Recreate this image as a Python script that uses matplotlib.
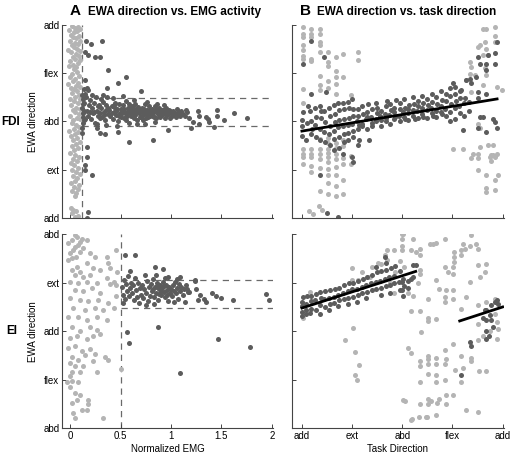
import numpy as np
import matplotlib.pyplot as plt

plt.rcParams['font.family'] = ['Liberation Sans', 'DejaVu Sans']

LIGHT = '#b4b4b4'
DARK = '#5c5c5c'

# y axis is EWA direction in degrees (0..360)
fdi_ticks = ['add', 'ext', 'abd', 'flex', 'add']
ei_ticks = ['abd', 'flex', 'add', 'ext', 'abd']
task_ticks = ['add', 'ext', 'abd', 'flex', 'add']
emg_ticks = [0, 0.5, 1, 1.5, 2]

# ---------- panel A, FDI ----------
fdi_emg_light = [
    (0.02, 358), (0.05, 355), (0.08, 357), (-0.01, 350), (0.04, 346), (0.07, 349), (0.1, 352), (0.01, 342),
    (0.03, 338), (0.06, 335), (0.09, 339), (0.0, 331), (0.05, 327), (0.08, 324), (0.02, 322), (0.1, 330),
    (0.04, 318), (0.07, 315), (-0.02, 313), (0.01, 309), (0.06, 306), (0.09, 303), (0.03, 300), (0.1, 311),
    (0.05, 296), (0.0, 292), (0.08, 289), (0.03, 285), (0.06, 281), (-0.01, 283), (0.1, 294),
    (0.04, 277), (0.07, 272), (0.02, 268), (0.09, 265), (0.0, 262), (0.05, 260),
    (0.03, 256), (0.08, 252), (0.06, 247), (-0.02, 250), (0.01, 243), (0.1, 245), (0.04, 240),
    (0.07, 237), (0.02, 233), (0.09, 230), (0.05, 226), (0.0, 222), (0.1, 221),
    (0.04, 218), (0.08, 214), (0.01, 210), (0.06, 206), (0.1, 203), (0.03, 201),
    (0.05, 197), (0.09, 193), (0.0, 190), (0.07, 186), (0.03, 182), (0.1, 184),
    (0.02, 178), (0.06, 174), (0.09, 170), (0.04, 166), (-0.01, 163), (0.08, 161),
    (0.05, 157), (0.01, 153), (0.07, 149), (0.03, 145), (0.1, 142),
    (0.06, 138), (0.02, 134), (0.08, 130), (0.04, 126), (0.0, 122),
    (0.05, 118), (0.09, 114), (0.03, 110), (0.07, 106), (0.01, 102),
    (0.04, 98), (0.08, 94), (0.02, 90), (0.06, 86), (0.1, 82),
    (0.03, 78), (0.07, 74), (0.05, 69), (0.01, 65), (0.09, 62),
    (0.04, 58), (0.08, 54), (0.02, 50), (0.06, 46), (0.05, 41),
    (0.01, 18), (0.03, 14), (0.02, 9), (0.06, 12), (0.08, 3), (0.05, 1),
]
fdi_emg_dark = [
    (0.16, 330), (0.21, 325), (0.32, 330), (0.15, 310), (0.18, 304), (0.25, 301), (0.3, 301),
    (0.38, 276), (0.55, 263), (0.47, 252), (0.37, 242), (0.15, 257), (0.17, 242), (0.7, 237),
    (1.03, 196), (1.15, 201), (1.27, 200), (1.28, 190), (1.28, 175), (1.35, 189), (1.37, 185),
    (1.38, 179), (1.46, 201), (1.46, 190), (1.43, 170), (1.53, 183), (1.62, 196), (1.75, 187),
    (1.2, 168), (0.97, 164), (1.22, 179),
    (0.27, 168), (0.3, 159), (0.35, 157), (0.58, 142), (0.82, 146), (0.47, 160), (0.17, 114),
    (0.15, 99), (0.17, 132), (0.12, 168), (0.22, 80), (0.18, 11), (0.17, 0), (0.15, 90), (0.12, 158),
    (0.12, 205), (0.13, 195), (0.14, 215), (0.15, 185), (0.16, 226), (0.17, 200), (0.18, 190),
    (0.19, 210), (0.13, 178), (0.2, 220), (0.15, 232), (0.18, 238), (0.2, 198),
    (0.21, 185), (0.22, 205), (0.23, 195), (0.24, 215), (0.25, 178), (0.26, 225), (0.27, 200),
    (0.28, 190), (0.29, 210), (0.22, 230), (0.3, 196), (0.27, 175),
    (0.31, 205), (0.32, 188), (0.33, 217), (0.34, 198), (0.35, 182), (0.36, 210), (0.37, 225),
    (0.38, 194), (0.39, 201), (0.33, 230), (0.4, 190), (0.36, 173), (0.31, 222),
    (0.41, 208), (0.42, 185), (0.43, 198), (0.44, 215), (0.45, 192), (0.46, 203), (0.47, 180),
    (0.48, 212), (0.49, 196), (0.42, 224), (0.5, 188), (0.46, 172), (0.44, 205),
    (0.51, 200), (0.52, 210), (0.53, 186), (0.54, 195), (0.55, 218), (0.56, 190), (0.57, 205),
    (0.58, 178), (0.59, 199), (0.52, 227), (0.6, 208), (0.55, 183), (0.57, 195),
    (0.61, 193), (0.62, 203), (0.63, 186), (0.64, 212), (0.65, 197), (0.66, 182), (0.67, 207),
    (0.68, 195), (0.69, 201), (0.63, 220), (0.7, 188), (0.66, 175), (0.62, 197),
    (0.71, 205), (0.72, 192), (0.73, 199), (0.74, 213), (0.75, 186), (0.76, 201), (0.77, 194),
    (0.78, 208), (0.79, 190), (0.74, 176), (0.8, 198), (0.72, 182), (0.76, 216),
    (0.81, 203), (0.82, 191), (0.83, 197), (0.84, 209), (0.85, 186), (0.86, 200), (0.87, 194),
    (0.88, 205), (0.89, 189), (0.84, 179), (0.9, 198), (0.86, 212),
    (0.91, 192), (0.92, 202), (0.93, 196), (0.94, 187), (0.95, 206), (0.96, 199), (0.97, 193),
    (0.98, 201), (0.99, 186), (0.93, 210), (1.0, 196),
    (1.01, 190), (1.02, 200), (1.04, 195), (1.05, 188), (1.06, 204), (1.08, 197), (1.09, 191), (1.1, 199),
    (1.12, 194), (1.14, 190), (1.16, 198), (1.18, 186),
    (0.13, 188), (0.14, 200), (0.13, 222), (0.14, 182), (0.12, 230), (0.13, 212), (0.14, 240),
    (0.34, 192), (0.38, 205), (0.41, 196), (0.45, 200), (0.48, 190), (0.51, 195), (0.53, 204),
    (0.56, 198), (0.6, 191), (0.62, 208), (0.64, 192), (0.67, 199), (0.69, 189), (0.71, 197),
    (0.73, 204), (0.75, 194), (0.77, 189), (0.79, 201), (0.81, 196), (0.83, 188), (0.85, 203),
    (0.87, 199), (0.89, 196), (0.91, 201), (0.94, 195), (0.96, 192), (0.99, 200), (1.03, 193),
    (1.07, 192), (0.36, 202), (0.43, 210), (0.5, 203), (0.58, 213), (0.65, 204), (0.72, 198),
    (0.79, 196), (0.88, 193), (0.28, 208), (0.24, 198), (0.3, 186),
]
fdi_emg_cut = 0.12
fdi_band = (172, 224)

# ---------- panel A, EI ----------
ei_emg_light = [
    (0.05, 358), (0.02, 349), (0.07, 354), (0.1, 345), (-0.02, 343), (0.17, 349), (0.05, 336),
    (0.13, 334), (0.0, 325), (0.1, 327), (0.2, 325), (0.25, 317), (-0.02, 312), (0.02, 315),
    (0.07, 299), (0.17, 306), (0.37, 317), (0.45, 330), (0.38, 306), (0.4, 298), (0.02, 293),
    (0.1, 290), (0.23, 297), (0.3, 293), (0.46, 290), (0.05, 284), (0.13, 281), (0.2, 284),
    (0.37, 279), (0.0, 271), (0.08, 269), (0.17, 271), (0.27, 269), (0.43, 271), (0.05, 256),
    (0.13, 254), (0.22, 260), (0.3, 250), (0.4, 267), (0.45, 265), (0.0, 241), (0.1, 238),
    (0.18, 236), (0.28, 238), (0.38, 232), (0.45, 245), (0.03, 223), (0.15, 220), (0.25, 223),
    (0.33, 220), (0.43, 223), (-0.02, 206), (0.08, 206), (0.17, 200), (0.27, 206), (0.37, 200),
    (0.02, 188), (0.1, 180), (0.2, 188), (0.27, 182), (0.0, 167), (0.07, 171), (0.17, 165),
    (0.23, 171), (0.3, 174), (-0.02, 148), (0.05, 152), (0.12, 143), (0.2, 147), (0.02, 132),
    (0.08, 126), (0.15, 135), (0.25, 138), (0.35, 132), (0.38, 126), (0.0, 121), (0.05, 115),
    (0.13, 115), (0.23, 124), (0.02, 104), (0.1, 104), (0.27, 104), (0.5, 110), (-0.03, 85),
    (0.02, 88), (0.08, 85), (0.0, 97), (0.05, 65), (0.02, 46), (0.07, 52), (0.18, 52), (0.03, 28),
    (0.12, 34), (0.17, 34), (0.05, 19), (0.18, 44), (0.33, 19), (0.1, 62), (0.0, 76),
    (0.08, 340), (0.03, 330), (0.12, 352), (0.06, 318),
]
ei_emg_dark = [
    (0.54, 321), (0.64, 321), (0.84, 299), (0.59, 291), (0.92, 295), (1.09, 280), (1.24, 275),
    (0.56, 178), (0.58, 158), (0.87, 188), (1.47, 165), (1.78, 151), (1.09, 102),
    (1.24, 273), (1.25, 259), (1.29, 247), (1.27, 237), (1.33, 239), (1.35, 234), (1.41, 250),
    (1.45, 245), (1.5, 241), (1.61, 237), (1.94, 249), (1.97, 237), (0.97, 280), (1.06, 276),
    (1.16, 258), (1.18, 253), (1.14, 234), (1.03, 234),
    (0.51, 262), (0.52, 248), (0.53, 275), (0.54, 240), (0.55, 268), (0.56, 255), (0.57, 283),
    (0.58, 245), (0.59, 260), (0.52, 233), (0.6, 270),
    (0.61, 250), (0.62, 265), (0.63, 238), (0.64, 278), (0.65, 256), (0.66, 244), (0.67, 270),
    (0.68, 232), (0.69, 260), (0.7, 248),
    (0.71, 266), (0.72, 241), (0.73, 258), (0.74, 284), (0.75, 250), (0.76, 273), (0.77, 236),
    (0.78, 262), (0.79, 246), (0.8, 268), (0.75, 229),
    (0.81, 255), (0.82, 277), (0.83, 243), (0.84, 262), (0.85, 250), (0.86, 270), (0.87, 238),
    (0.88, 258), (0.89, 265), (0.9, 247), (0.85, 285), (0.83, 231),
    (0.91, 260), (0.92, 272), (0.93, 252), (0.94, 243), (0.95, 266), (0.96, 256), (0.97, 236),
    (0.98, 262), (0.99, 250), (0.94, 278), (1.0, 258),
    (1.01, 245), (1.02, 265), (1.03, 255), (1.04, 272), (1.05, 250), (1.06, 260), (1.07, 240),
    (1.08, 268), (1.09, 254), (1.1, 262), (1.12, 248), (1.13, 258), (1.15, 266), (1.17, 252),
    (0.86, 262), (0.9, 255), (0.93, 264), (0.88, 249), (0.96, 248), (0.82, 258),
]
ei_emg_cut = 0.5
ei_band = (223, 275)

# ---------- panel B, FDI ----------
fdi_task_light = [
    (2, 356), (2, 344), (2, 338), (2, 323), (2, 313), (2, 303), (2, 297), (2, 240), (2, 215),
    (2, 129), (2, 120), (2, 113), (2, 100),
    (17, 352), (17, 343), (17, 338), (17, 297), (17, 292), (17, 129), (17, 120), (17, 113),
    (17, 97), (17, 85), (12, 12), (20, 8),
    (33, 352), (33, 343), (33, 328), (33, 322), (33, 310), (33, 265), (33, 248), (33, 238),
    (33, 148), (33, 129), (33, 120), (33, 110), (33, 93), (33, 50), (30, 22), (36, 14),
    (47, 310), (47, 290), (47, 284), (47, 255), (47, 242), (47, 150), (47, 140), (47, 128),
    (47, 122), (47, 113), (47, 105), (47, 92), (47, 80), (47, 65), (47, 45),
    (61, 300), (61, 275), (61, 262), (61, 250), (61, 232), (61, 140), (61, 130), (61, 120),
    (61, 110), (61, 95), (61, 80), (61, 60), (61, 40),
    (74, 305), (74, 262), (74, 145), (74, 135), (74, 112), (74, 100), (74, 70), (74, 45),
    (88, 230), (88, 115), (88, 100), (100, 310), (100, 295),
    (271, 129), (289, 129), (304, 111), (307, 120), (316, 120), (316, 111), (316, 89), (319, 133),
    (334, 136), (340, 117), (343, 136), (346, 114), (337, 114), (340, 107), (331, 80), (346, 71),
    (352, 80), (331, 55), (331, 49), (346, 52), (301, 291), (304, 282), (301, 269), (310, 266),
    (316, 319), (319, 322), (325, 353), (331, 353), (346, 356), (328, 328), (331, 316), (325, 304),
    (334, 304), (346, 340), (346, 328), (328, 279), (331, 266), (349, 245), (359, 239), (325, 248),
    (295, 257), (304, 235), (319, 167), (316, 176), (349, 120), (343, 118),
]
fdi_task_dark = [
    (17, 330), (2, 288), (40, 300), (17, 232), (35, 199), (44, 235), (32, 80), (65, 1), (45, 9),
    (89, 114), (92, 105), (74, 120), (100, 136), (103, 145), (121, 145),
    (271, 251), (286, 238), (295, 257), (301, 260), (304, 251), (313, 263), (316, 300), (319, 288),
    (331, 288), (331, 276), (334, 304), (346, 307), (346, 288), (349, 328), (331, 232), (316, 235),
    (316, 223), (289, 164), (316, 167), (331, 161), (343, 185), (346, 179), (349, 167), (319, 188),
    (325, 188),
    (0, 152), (1, 171), (0, 183), (2, 197), (8, 146), (9, 178), (10, 209),
    (16, 156), (17, 181), (15, 199), (18, 166), (25, 151), (24, 173), (26, 189), (24, 206),
    (33, 146), (32, 166), (34, 186), (32, 209), (41, 141), (40, 161), (42, 179), (40, 199),
    (50, 136), (49, 156), (51, 171), (51, 191), (49, 206), (58, 147), (57, 162), (59, 179),
    (59, 194), (57, 211), (58, 126), (66, 151), (65, 169), (67, 182), (67, 201), (65, 214),
    (66, 131), (75, 156), (74, 171), (76, 185), (76, 203), (74, 215), (75, 141), (83, 159),
    (82, 174), (84, 187), (84, 205), (82, 217), (83, 146), (91, 163), (90, 175), (92, 191),
    (92, 204), (90, 221), (91, 151),
    (100, 166), (99, 181), (101, 190), (100, 203), (102, 173), (108, 171), (107, 176), (109, 193),
    (108, 209), (116, 165), (115, 184), (117, 197), (116, 188), (118, 212), (125, 177), (124, 189),
    (126, 203), (125, 171), (133, 180), (132, 184), (134, 196), (133, 214), (135, 205), (141, 172),
    (140, 190), (142, 199), (141, 183), (150, 181), (149, 193), (151, 208), (150, 186), (152, 218),
    (158, 176), (157, 192), (159, 201), (158, 212), (166, 185), (165, 197), (167, 188), (166, 206),
    (168, 220), (175, 180), (174, 190), (176, 203), (175, 214), (183, 188), (182, 198), (184, 206),
    (183, 221), (185, 184), (191, 182), (190, 196), (192, 210), (191, 203), (200, 190), (199, 201),
    (201, 213), (200, 225), (202, 185), (208, 187), (207, 200), (209, 209), (208, 219), (216, 193),
    (215, 205), (217, 214), (216, 228), (218, 188), (225, 186), (224, 202), (226, 211), (225, 222),
    (233, 195), (232, 206), (234, 217), (233, 231), (235, 190), (241, 189), (240, 199), (242, 212),
    (241, 226), (250, 197), (249, 208), (251, 220), (250, 236), (252, 193), (258, 190), (257, 203),
    (259, 218), (258, 231), (266, 180), (265, 198), (267, 213), (266, 228), (265, 242), (275, 185),
    (274, 205), (276, 219), (275, 232), (274, 245), (283, 195), (282, 208), (284, 224), (283, 236),
    (291, 190), (290, 214), (292, 224), (300, 200), (299, 217),
]
fdi_fit_x = [0, 350]
fdi_fit_y = [162, 222]

# ---------- panel B, EI ----------
ei_task_light = [
    (2, 205), (14, 253), (77, 163), (91, 186), (95, 141), (102, 118), (96, 98), (98, 89),
    (89, 275), (101, 275), (119, 281), (137, 306), (152, 330), (165, 331), (167, 290),
    (149, 321), (152, 312), (122, 281), (90, 298), (108, 290), (125, 300), (141, 305), (158, 270),
    (175, 310), (183, 300), (191, 250), (200, 245), (208, 270), (166, 250),
    (179, 360), (179, 352), (179, 339), (179, 330), (199, 352), (196, 330), (211, 333), (211, 321),
    (204, 327), (211, 293), (211, 287), (229, 341), (235, 342), (241, 344), (256, 352), (273, 327),
    (273, 318), (273, 309), (271, 299), (256, 299), (262, 290), (271, 287), (289, 342), (286, 330),
    (286, 321), (292, 333), (301, 339), (304, 358), (313, 342), (316, 333), (316, 302), (319, 280),
    (331, 305), (328, 290), (301, 271), (295, 243), (286, 222), (316, 228), (331, 234), (346, 240),
    (346, 212), (349, 197), (352, 184), (349, 166), (316, 194), (316, 163), (325, 172), (337, 181),
    (241, 275), (246, 259), (258, 256), (271, 256), (256, 243), (256, 235), (271, 240), (227, 240),
    (241, 202), (226, 205), (226, 199), (211, 218), (196, 218), (214, 178), (190, 148), (196, 139),
    (211, 125), (211, 116), (226, 134), (226, 120), (226, 129), (241, 131), (241, 120), (258, 129),
    (256, 120), (256, 145), (271, 157), (286, 134), (289, 111), (274, 108), (304, 125), (304, 131),
    (317, 107), (330, 106), (211, 86), (226, 101), (241, 98), (241, 86), (256, 89), (286, 86),
    (184, 51), (212, 44), (226, 45), (226, 54), (231, 50), (242, 46), (245, 54), (258, 62),
    (271, 62), (258, 45), (294, 33), (316, 30), (196, 16), (210, 20), (222, 20), (225, 20),
    (241, 24), (181, 52), (197, 17), (181, 360),
]
ei_task_dark = [
    (301, 160), (303, 153), (286, 99), (331, 220), (331, 201), (331, 181), (331, 166), (343, 187),
    (346, 234), (349, 237), (340, 228), (328, 220), (337, 210), (325, 205), (340, 200), (352, 230),
    (335, 172), (204, 303), (196, 277), (179, 271), (179, 256), (181, 246),
    (0, 215), (1, 226), (1, 234), (2, 244), (0, 208), (8, 219), (7, 231), (9, 246), (7, 211),
    (16, 221), (17, 236), (17, 246), (15, 213), (25, 219), (24, 237), (26, 249), (33, 211),
    (32, 229), (34, 241), (32, 253), (41, 225), (40, 239), (42, 255), (50, 231), (49, 242),
    (51, 257), (49, 219), (58, 233), (57, 244), (59, 259), (66, 237), (65, 248), (67, 261),
    (65, 226), (75, 239), (74, 251), (76, 265), (83, 241), (82, 254), (84, 269), (82, 231),
    (91, 243), (90, 258), (92, 269), (100, 247), (99, 259), (101, 273), (99, 235), (108, 251),
    (107, 262), (109, 277), (116, 253), (115, 265), (117, 281), (115, 241), (125, 256), (124, 269),
    (126, 285), (133, 259), (132, 271), (134, 289), (132, 299), (141, 261), (140, 274), (142, 291),
    (141, 247), (150, 263), (149, 277), (151, 293), (150, 306), (149, 318), (158, 266), (157, 280),
    (159, 297), (158, 251), (166, 269), (165, 283), (167, 301), (175, 257), (174, 271), (176, 291),
    (183, 263), (182, 277), (191, 261), (190, 274), (200, 303), (199, 281),
]
ei_fit_x = [[0, 204], [283, 360]]
ei_fit_y = [[223, 291], [199, 225]]


def style(ax):
    for s in ['top', 'right']:
        ax.spines[s].set_visible(False)
    for s in ['left', 'bottom']:
        ax.spines[s].set_color('#444444')
        ax.spines[s].set_linewidth(0.8)
    ax.tick_params(direction='in', length=3, width=0.7, color='#444444', labelsize=7, pad=2)
    ax.set_ylim(0, 360)
    ax.set_yticks([0, 90, 180, 270, 360])


def dots(ax, pts, c):
    a = np.array(pts, dtype=float)
    ax.scatter(a[:, 0], a[:, 1], s=13, c=c, linewidths=0, zorder=2)


fig = plt.figure(figsize=(5.13, 4.54), dpi=100)
axA1 = fig.add_axes([0.121, 0.520, 0.411, 0.425])
axB1 = fig.add_axes([0.569, 0.520, 0.413, 0.425])
axA2 = fig.add_axes([0.121, 0.057, 0.411, 0.427])
axB2 = fig.add_axes([0.569, 0.057, 0.413, 0.427])

dash = dict(color='#6a6a6a', lw=0.9, ls=(0, (5, 4)), zorder=1)

# A top
style(axA1)
dots(axA1, fdi_emg_light, LIGHT)
dots(axA1, fdi_emg_dark, DARK)
axA1.axvline(fdi_emg_cut, **dash)
for yb in fdi_band:
    axA1.plot([fdi_emg_cut, 2.01], [yb, yb], **dash)
axA1.set_xlim(-0.08, 2.01)
axA1.set_xticks(emg_ticks)
axA1.set_xticklabels([])
axA1.set_yticklabels(fdi_ticks)
axA1.set_ylabel('EWA direction', fontsize=7, labelpad=4)

# A bottom
style(axA2)
dots(axA2, ei_emg_light, LIGHT)
dots(axA2, ei_emg_dark, DARK)
axA2.axvline(ei_emg_cut, **dash)
for yb in ei_band:
    axA2.plot([ei_emg_cut, 2.01], [yb, yb], **dash)
axA2.set_xlim(-0.08, 2.01)
axA2.set_xticks(emg_ticks)
axA2.set_xticklabels(['0', '0.5', '1', '1.5', '2'])
axA2.set_yticklabels(ei_ticks)
axA2.set_ylabel('EWA direction', fontsize=7, labelpad=4)
axA2.set_xlabel('Normalized EMG', fontsize=7, labelpad=2)

# B top
style(axB1)
dots(axB1, fdi_task_light, LIGHT)
dots(axB1, fdi_task_dark, DARK)
axB1.plot(fdi_fit_x, fdi_fit_y, color='black', lw=2, zorder=3)
axB1.set_xlim(-18, 362)
axB1.set_xticks([0, 90, 180, 270, 360])
axB1.set_xticklabels([])
axB1.set_yticklabels([])

# B bottom
style(axB2)
dots(axB2, ei_task_light, LIGHT)
dots(axB2, ei_task_dark, DARK)
for fx, fy in zip(ei_fit_x, ei_fit_y):
    axB2.plot(fx, fy, color='black', lw=2, zorder=3)
axB2.set_xlim(-18, 362)
axB2.set_xticks([0, 90, 180, 270, 360])
axB2.set_xticklabels(task_ticks)
axB2.set_yticklabels([])
axB2.set_xlabel('Task Direction', fontsize=7, labelpad=2)

# titles and row labels
fig.text(0.136, 0.976, 'A', fontsize=11, fontweight='bold', va='center')
fig.text(0.172, 0.974, 'EWA direction vs. EMG activity', fontsize=8.5, fontweight='bold', va='center')
fig.text(0.584, 0.976, 'B', fontsize=11, fontweight='bold', va='center')
fig.text(0.617, 0.974, 'EWA direction vs. task direction', fontsize=8.5, fontweight='bold', va='center')
fig.text(0.002, 1 - 122 / 454, 'FDI', fontsize=8.5, fontweight='bold', va='center')
fig.text(0.012, 1 - 331 / 454, 'EI', fontsize=8.5, fontweight='bold', va='center')

fig.savefig('out.png', dpi=100)
